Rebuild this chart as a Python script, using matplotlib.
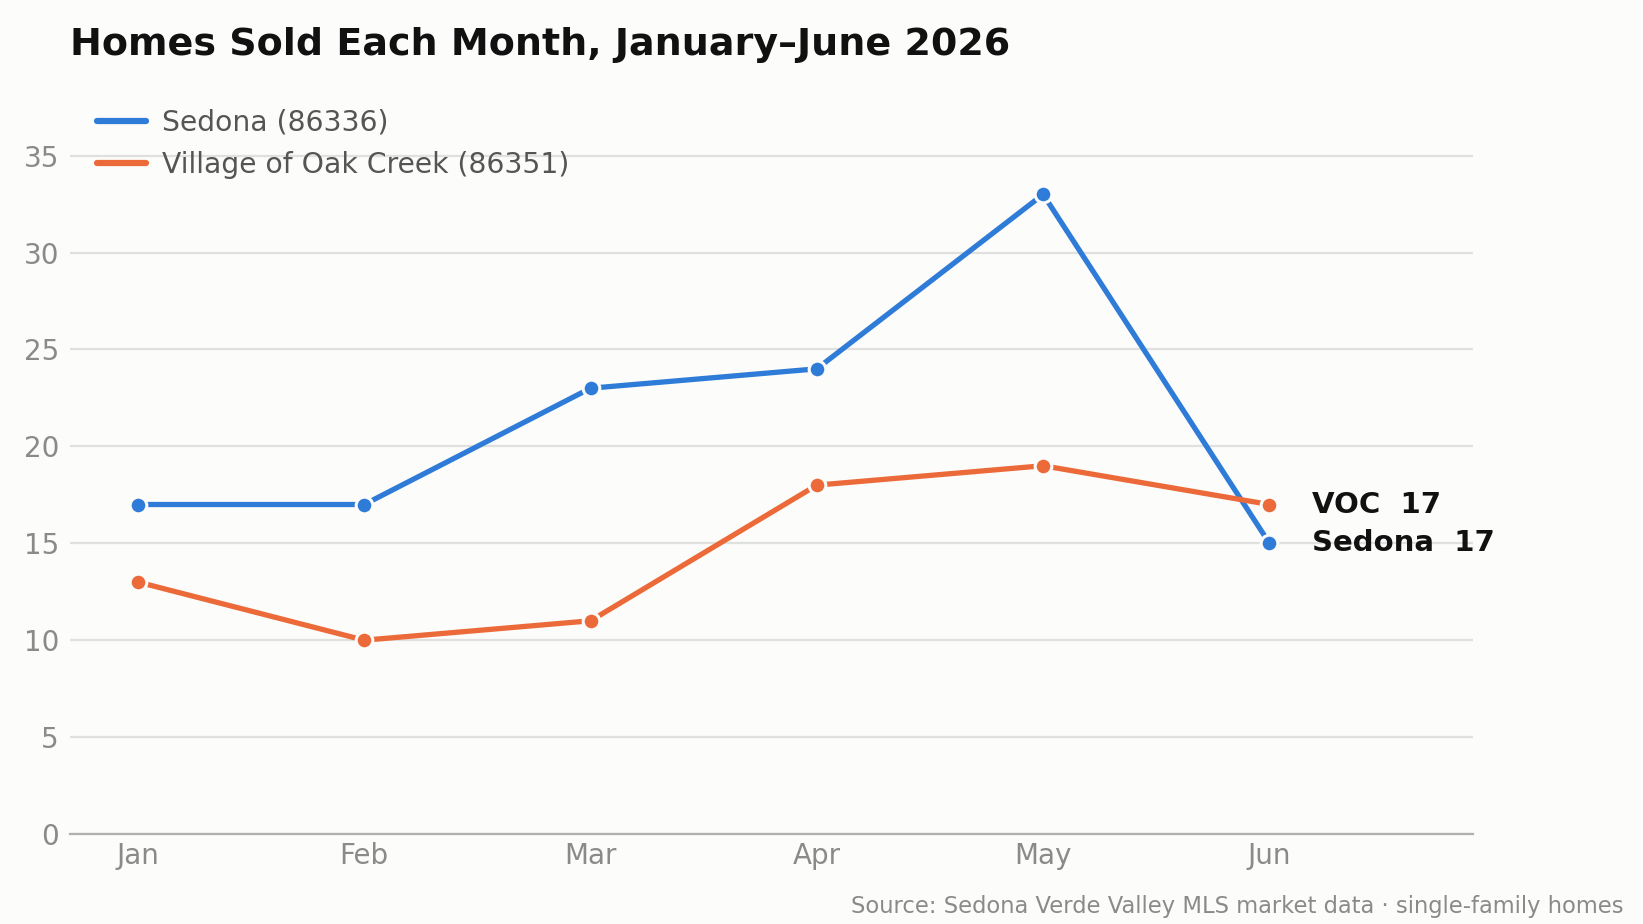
import matplotlib
matplotlib.use("Agg")
import matplotlib.pyplot as plt

months = ["Jan", "Feb", "Mar", "Apr", "May", "Jun"]
sedona = [17, 17, 23, 24, 33, 15]
voc = [13, 10, 11, 18, 19, 17]
series_names = ["Sedona (86336)", "Village of Oak Creek (86351)"]
end_labels = ["Sedona  17", "VOC  17"]
yticks = [0, 5, 10, 15, 20, 25, 30, 35]

BLUE = "#2e7bd8"
ORANGE = "#ec6a3a"
BG = "#fcfcfa"

plt.rcParams['font.family'] = ['DejaVu Sans']

fig = plt.figure(figsize=(16.43, 9.24), dpi=100, facecolor=BG)
ax = fig.add_axes([0.0426, 0.0974, 0.8540, 0.7971], facecolor=BG)

x = list(range(len(months)))
for vals, col, name in [(sedona, BLUE, series_names[0]), (voc, ORANGE, series_names[1])]:
    ax.plot(x, vals, color=col, lw=3.8, solid_capstyle='round', label=name,
            marker='o', markersize=12, markerfacecolor=col,
            markeredgecolor=BG, markeredgewidth=2.2, zorder=3)

ax.set_xlim(-0.3, 5.9)
ax.set_ylim(0, 38)
ax.set_yticks(yticks)
ax.set_xticks(x)
ax.set_xticklabels(months)
ax.tick_params(axis='both', length=0, labelsize=20, labelcolor='#8a8a8a')
ax.tick_params(axis='y', pad=8)
ax.tick_params(axis='x', pad=6)
ax.grid(axis='y', color='#e0e0de', lw=1.6)
ax.set_axisbelow(True)
for s in ['top', 'right', 'left']:
    ax.spines[s].set_visible(False)
ax.spines['bottom'].set_color('#b0b0b0')
ax.spines['bottom'].set_linewidth(1.6)

leg = ax.legend(loc='upper left', bbox_to_anchor=(0.0052, 1.0115), frameon=False,
                fontsize=20.3, handlelength=1.75, handletextpad=0.55,
                labelspacing=0.5, borderaxespad=0.3)
for t in leg.get_texts():
    t.set_color('#555555')
for h in leg.get_lines():
    h.set_marker('')
    h.set_linewidth(4.5)

ax.annotate(end_labels[1], (x[-1], voc[-1]), xytext=(31, 0), textcoords='offset points',
            va='center', ha='left', fontsize=21, fontweight='bold', color='#111111')
ax.annotate(end_labels[0], (x[-1], sedona[-1]), xytext=(31, 0), textcoords='offset points',
            va='center', ha='left', fontsize=21, fontweight='bold', color='#111111')

fig.text(0.0426, 0.9516, "Homes Sold Each Month, January\u2013June 2026", fontsize=27.4,
         fontweight='bold', color='#111111', ha='left', va='center')
fig.text(0.988, 0.0184, "Source: Sedona Verde Valley MLS market data \u00b7 single-family homes",
         fontsize=16.25, color='#8a8a8a', ha='right', va='center')

fig.savefig("out.png", dpi=100, facecolor=BG)
